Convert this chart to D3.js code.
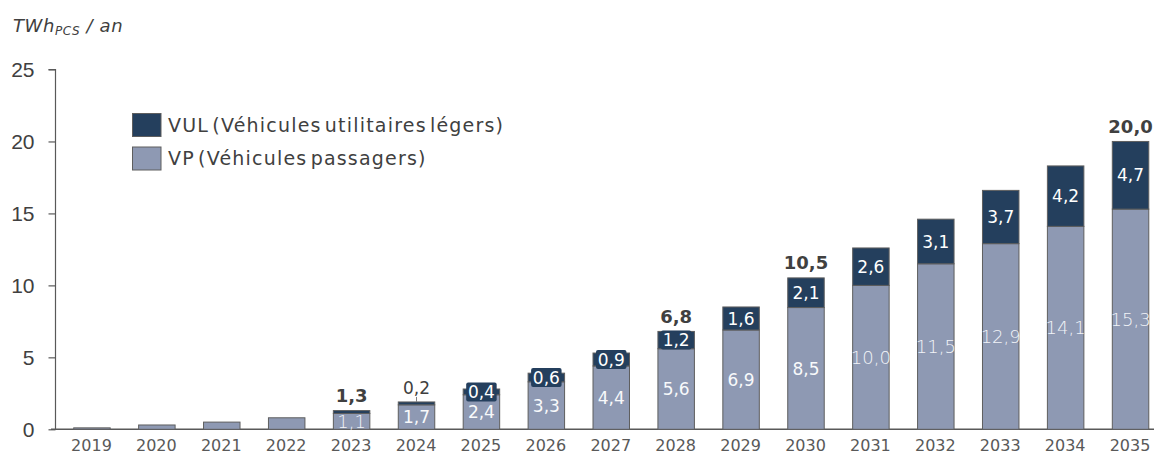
<!DOCTYPE html>
<html>
<head>
<meta charset="utf-8">
<script src="https://cdn.jsdelivr.net/npm/d3@7"></script>
<style>
  html, body { margin: 0; padding: 0; background: #ffffff; }
  svg { display: block; }
  .txt { font-family: 'DejaVu Sans', sans-serif; }
</style>
</head>
<body>
<svg id="chart" width="1154" height="459"></svg>
<script>
// Annual consumption by vehicle type (TWh PCS / year)
const years = ["2019","2020","2021","2022","2023","2024","2025","2026","2027","2028","2029","2030","2031","2032","2033","2034","2035"];
const vpValues  = [0.1, 0.3, 0.5, 0.8, 1.1, 1.7, 2.4, 3.3, 4.4, 5.6, 6.9, 8.46, 10.0, 11.5, 12.9, 14.1, 15.3];
const vulValues = [0, 0, 0, 0, 0.2, 0.2, 0.4, 0.6, 0.9, 1.2, 1.6, 2.06, 2.6, 3.1, 3.7, 4.2, 4.7];
const yTicks = [0, 5, 10, 15, 20, 25];
const seriesNames = ["VUL (Véhicules utilitaires légers)", "VP (Véhicules passagers)"];

// Which years carry labels
const vpLabelYears = ["2023","2024","2025","2026","2027","2028","2029","2030","2031","2032","2033","2034","2035"];
const vpLightYears = ["2023","2031","2032","2033","2034","2035"];
const vulLabelYears = ["2024","2025","2026","2027","2028","2029","2030","2031","2032","2033","2034","2035"];
const totalLabelYears = ["2023","2028","2030","2035"];

const colVUL = "#243f5d";
const colVP = "#8e99b3";
const colStroke = "#5e5e5e";
const colText = "#404040";
const colAxisText = "#595959";

const fmt = v => v.toFixed(1).replace(".", ",");

const svg = d3.select("#chart");

const x = d3.scaleBand().domain(years).range([59, 1162.5]).paddingInner(0.438).paddingOuter(0.219);
const y = d3.scaleLinear().domain([0, 25]).range([429.3, 69.5]);

const rows = years.map((yr, i) => ({ year: yr, vp: vpValues[i], vul: vulValues[i], total: vpValues[i] + vulValues[i] }));

// Y axis
const yAxis = d3.axisLeft(y).tickValues(yTicks).tickSize(7).tickPadding(14).tickFormat(d3.format("d"));
const gy = svg.append("g").attr("transform", "translate(55.5,0)").call(yAxis);
gy.select(".domain").attr("stroke", "#595959").attr("stroke-width", 1.2).attr("d", `M-7,${y(25)}H0V${y(0)}`);
gy.selectAll(".tick line").attr("stroke", "#595959").attr("stroke-width", 1.2);
gy.selectAll(".tick text")
  .attr("font-family", "'Liberation Sans', Arial, sans-serif")
  .attr("font-size", 21).attr("fill", colText);

// X axis
const xAxis = d3.axisBottom(x).tickSize(0).tickPadding(10);
const gx = svg.append("g").attr("transform", `translate(0,${y(0)})`).call(xAxis);
gx.select(".domain").attr("stroke", "#595959").attr("stroke-width", 1.5).attr("d", "M51,0H1154");
gx.selectAll(".tick text")
  .attr("font-family", "'DejaVu Sans', sans-serif")
  .attr("font-size", 16).attr("fill", colAxisText);

// Bars
const bw = x.bandwidth();
const bars = svg.append("g");
bars.selectAll("rect.vp").data(rows).join("rect")
  .attr("class", "vp")
  .attr("x", d => x(d.year) + 0.5).attr("width", bw)
  .attr("y", d => y(d.vp)).attr("height", d => y(0) - y(d.vp))
  .attr("fill", colVP).attr("stroke", colStroke).attr("stroke-width", 1);
bars.selectAll("rect.vul").data(rows.filter(d => d.vul > 0)).join("rect")
  .attr("class", "vul")
  .attr("x", d => x(d.year) + 0.5).attr("width", bw)
  .attr("y", d => y(d.total)).attr("height", d => y(d.vp) - y(d.total))
  .attr("fill", colVUL).attr("stroke", colStroke).attr("stroke-width", 1);

// VP labels, centred in the lower segment
const labels = svg.append("g").attr("class", "txt");
labels.selectAll("text.vpl").data(rows.filter(d => vpLabelYears.includes(d.year))).join("text")
  .attr("class", "vpl")
  .attr("x", d => x(d.year) + bw / 2 + 0.5)
  .attr("y", d => (y(d.vp) + y(0)) / 2)
  .attr("dy", "0.36em")
  .attr("text-anchor", "middle")
  .attr("font-size", d => vpLightYears.includes(d.year) ? 18 : 17)
  .attr("font-weight", d => vpLightYears.includes(d.year) ? 200 : 400)
  .attr("fill", d => vpLightYears.includes(d.year) ? "#f2f4f8" : "#f8f9fb")
  .text(d => fmt(d.vp));

// VUL labels: inside the segment, with a backing box when the segment is thin
const vulRows = rows.filter(d => vulLabelYears.includes(d.year));
const insideRows = vulRows.filter(d => d.vul >= 0.3);
labels.selectAll("rect.vulbox").data(insideRows.filter(d => (y(d.vp) - y(d.total)) < 18)).join("rect")
  .attr("class", "vulbox")
  .attr("x", d => x(d.year) + 3.5).attr("width", bw - 6)
  .attr("y", d => (y(d.vp) + y(d.total)) / 2 - 9.5).attr("height", 19)
  .attr("rx", 2)
  .attr("fill", colVUL);
labels.selectAll("text.vull").data(insideRows).join("text")
  .attr("class", "vull")
  .attr("x", d => x(d.year) + bw / 2 + 0.5)
  .attr("y", d => (y(d.vp) + y(d.total)) / 2)
  .attr("dy", "0.36em")
  .attr("text-anchor", "middle")
  .attr("font-size", 17)
  .attr("fill", "#ffffff")
  .text(d => fmt(d.vul));

// Thin VUL segment labelled above the bar with a leader line
const outsideRows = vulRows.filter(d => d.vul < 0.3);
labels.selectAll("line.lead").data(outsideRows).join("line")
  .attr("class", "lead")
  .attr("x1", d => x(d.year) + bw / 2 + 0.5).attr("x2", d => x(d.year) + bw / 2 + 0.5)
  .attr("y1", d => y(d.total)).attr("y2", d => y(d.total) - 5)
  .attr("stroke", "#7f7f7f").attr("stroke-width", 1);
labels.selectAll("text.vulo").data(outsideRows).join("text")
  .attr("class", "vulo")
  .attr("x", d => x(d.year) + bw / 2 + 0.5)
  .attr("y", d => y(d.total) - 14)
  .attr("dy", "0.36em")
  .attr("text-anchor", "middle")
  .attr("font-size", 17)
  .attr("fill", colText)
  .text(d => fmt(d.vul));

// Totals in bold above selected bars
labels.selectAll("text.tot").data(rows.filter(d => totalLabelYears.includes(d.year))).join("text")
  .attr("class", "tot")
  .attr("x", d => x(d.year) + bw / 2 + 0.5)
  .attr("y", d => y(d.total) - 15)
  .attr("dy", "0.36em")
  .attr("text-anchor", "middle")
  .attr("font-size", 18)
  .attr("font-weight", "bold")
  .attr("fill", colText)
  .text(d => fmt(d.total));

// Unit title
const title = svg.append("text").attr("class", "txt")
  .attr("x", 13).attr("y", 32)
  .attr("font-size", 18).attr("font-style", "italic").attr("fill", colText)
  .attr("letter-spacing", 0.6);
title.append("tspan").text("TWh");
title.append("tspan").attr("font-size", 12).attr("dy", 3).text("PCS");
title.append("tspan").attr("dy", -3).text(" / an");

// Legend
const legend = svg.append("g").attr("class", "txt");
const legendColors = [colVUL, colVP];
seriesNames.forEach((name, i) => {
  const ly = 113 + i * 33.5;
  legend.append("rect")
    .attr("x", 132.5).attr("y", ly + 0.5).attr("width", 28.5).attr("height", 23)
    .attr("fill", legendColors[i]).attr("stroke", colStroke).attr("stroke-width", 1);
  legend.append("text")
    .attr("x", 168).attr("y", ly + 12)
    .attr("dy", "0.36em")
    .attr("font-size", 19).attr("fill", colText)
    .attr("letter-spacing", 1.2)
    .attr("word-spacing", -4)
    .text(name);
});
</script>
</body>
</html>
